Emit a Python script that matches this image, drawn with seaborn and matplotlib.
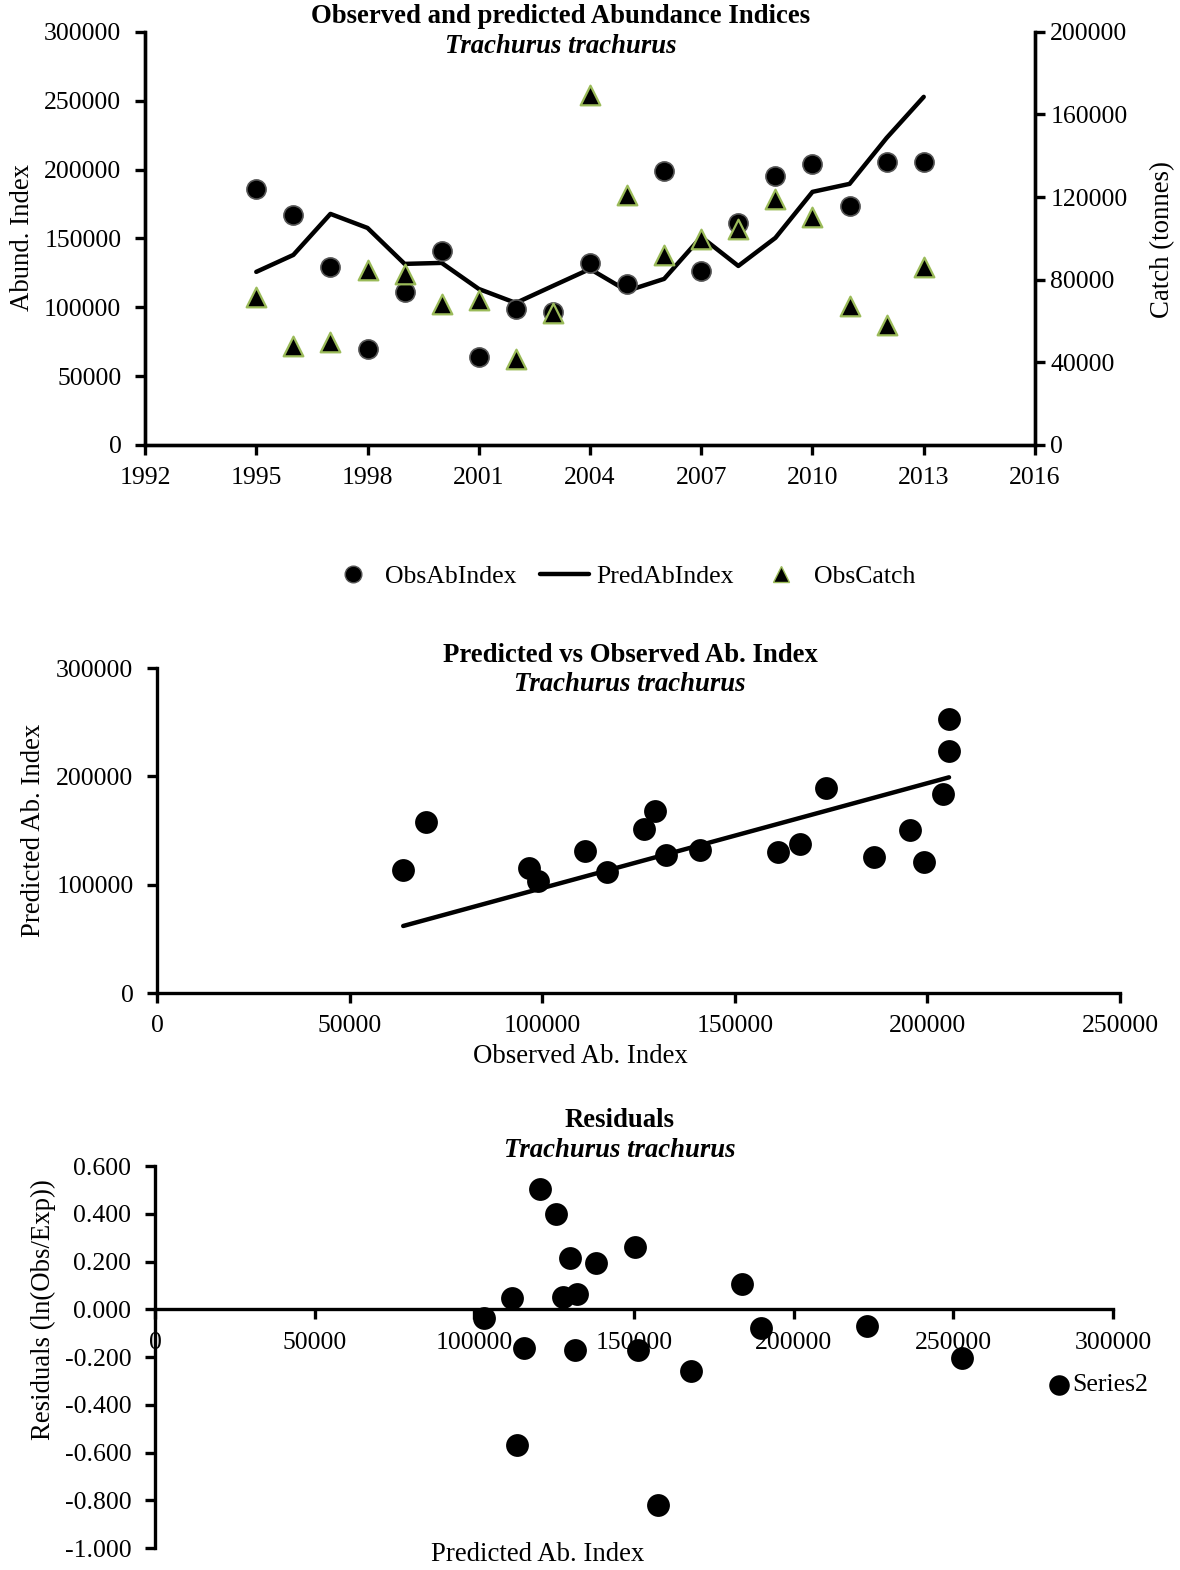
import matplotlib
matplotlib.use('Agg')
import matplotlib.pyplot as plt
from matplotlib.lines import Line2D
from matplotlib.ticker import FuncFormatter
import seaborn as sns
import pandas as pd
import numpy as np

# Values
years = [1995, 1996, 1997, 1998, 1999, 2000, 2001, 2002, 2003, 2004,
         2005, 2006, 2007, 2008, 2009, 2010, 2011, 2012, 2013]
obs_ab_index = [186000, 167000, 129300, 69700, 111100, 140900, 63900, 98800, 96600, 132200,
                116900, 199000, 126400, 161300, 195400, 204100, 173600, 205600, 205600]
pred_ab_index = [125700, 138000, 167800, 157600, 131500, 132200, 113300, 103100, 115500, 127800,
                 111900, 120600, 151100, 130000, 150400, 183800, 189600, 223000, 252800]
obs_catch = [71700, 47900, 49900, 84700, 82800, 68300, 70200, 41600, 63900, 169500,
             121100, 92000, 99800, 104600, 119100, 110400, 67300, 58100, 86200]
residuals = [0.398, 0.193, -0.260, -0.821, -0.172, 0.063, -0.570, -0.038, -0.163, 0.050,
             0.046, 0.503, -0.172, 0.214, 0.260, 0.105, -0.080, -0.071, -0.205]

df = pd.DataFrame({'Year': years, 'ObsAbIndex': obs_ab_index, 'PredAbIndex': pred_ab_index,
                   'ObsCatch': obs_catch, 'Residual': residuals})

sns.set_style('ticks')
plt.rcParams['font.family'] = ['Liberation Serif', 'DejaVu Serif']
plt.rcParams['font.size'] = 18.5
for k in ['text.color', 'axes.labelcolor', 'xtick.color', 'ytick.color', 'axes.edgecolor']:
    plt.rcParams[k] = 'black'
plt.rcParams['axes.linewidth'] = 2.4
plt.rcParams['xtick.major.width'] = 2.4
plt.rcParams['ytick.major.width'] = 2.4
plt.rcParams['xtick.major.size'] = 7
plt.rcParams['ytick.major.size'] = 7
plt.rcParams['xtick.major.pad'] = 9
plt.rcParams['ytick.major.pad'] = 10
plt.rcParams['xtick.labelsize'] = 18.5
plt.rcParams['ytick.labelsize'] = 18.5

green = '#9BBB59'
tfs = 19.3
fig = plt.figure(figsize=(11.8, 15.7), dpi=100)

##############################################
# Observed and predicted abundance indices

ax1 = fig.add_axes([0.1229, 0.7166, 0.7542, 0.2631])
sns.lineplot(data=df, x='Year', y='PredAbIndex', color='black', linewidth=3.2, ax=ax1, zorder=2)
sns.scatterplot(data=df, x='Year', y='ObsAbIndex', marker='o', color='black', s=190,
                edgecolor='#555555', linewidth=1.2, ax=ax1, zorder=3)
ax1.set_xlim(1992, 2016)
ax1.set_ylim(0, 300000)
ax1.set_xticks(range(1992, 2017, 3))
ax1.set_yticks(range(0, 300001, 50000))
ax1.set_xlabel('')
ax1.set_ylabel('')
ax1.spines['top'].set_visible(False)

ax1b = ax1.twinx()
sns.scatterplot(data=df, x='Year', y='ObsCatch', marker='^', color='black', s=200,
                edgecolor=green, linewidth=1.6, ax=ax1b, zorder=4)
ax1b.set_ylim(0, 200000)
ax1b.set_yticks(range(0, 200001, 40000))
ax1b.tick_params(axis='y', pad=4)
ax1b.set_ylabel('')
ax1b.spines['top'].set_visible(False)

fig.text(0.475, 0.9892, 'Observed and predicted Abundance Indices', ha='center', va='center',
         fontsize=tfs, fontweight='bold')
fig.text(0.475, 0.9701, 'Trachurus trachurus', ha='center', va='center',
         fontsize=tfs, fontweight='bold', style='italic')
fig.text(0.019, 0.8487, 'Abund. Index', rotation=90, ha='center', va='center', fontsize=tfs)
fig.text(0.9855, 0.8471, 'Catch (tonnes)', rotation=90, ha='center', va='center', fontsize=tfs)

handles = [Line2D([], [], marker='o', color='black', markeredgecolor='#555555', linestyle='none', markersize=12),
           Line2D([], [], color='black', linewidth=3.2),
           Line2D([], [], marker='^', color='black', markeredgecolor=green, linestyle='none', markersize=11)]
fig.legend(handles, ['ObsAbIndex', 'PredAbIndex', 'ObsCatch'], loc='center',
           bbox_to_anchor=(0.527, 0.6325), ncol=3, frameon=False, fontsize=18.5,
           handlelength=1.9, columnspacing=0.9, handletextpad=0.3)

##############################################
# Predicted vs observed (trendline through the origin)

ax2 = fig.add_axes([0.1331, 0.3675, 0.8161, 0.2070])
sns.scatterplot(data=df, x='ObsAbIndex', y='PredAbIndex', color='black', s=270,
                linewidth=0, ax=ax2, zorder=3)
slope = np.dot(df['ObsAbIndex'], df['PredAbIndex']) / np.dot(df['ObsAbIndex'], df['ObsAbIndex'])
trend_x = np.array([df['ObsAbIndex'].min(), df['ObsAbIndex'].max()])
sns.lineplot(x=trend_x, y=slope * trend_x, color='black', linewidth=3.2, ax=ax2, zorder=2)
ax2.set_xlim(0, 250000)
ax2.set_ylim(0, 300000)
ax2.set_xticks(range(0, 250001, 50000))
ax2.set_yticks(range(0, 300001, 100000))
ax2.set_xlabel('')
ax2.set_ylabel('')
sns.despine(ax=ax2)

fig.text(0.534, 0.5828, 'Predicted vs Observed Ab. Index', ha='center', va='center',
         fontsize=tfs, fontweight='bold')
fig.text(0.534, 0.5637, 'Trachurus trachurus', ha='center', va='center',
         fontsize=tfs, fontweight='bold', style='italic')
fig.text(0.028, 0.4713, 'Predicted Ab. Index', rotation=90, ha='center', va='center', fontsize=tfs)
fig.text(0.4915, 0.3268, 'Observed Ab. Index', ha='center', va='center', fontsize=tfs)

##############################################
# Residuals

ax3 = fig.add_axes([0.1314, 0.0140, 0.8119, 0.2433])
sns.scatterplot(data=df, x='PredAbIndex', y='Residual', marker='o', color='black', s=270,
                linewidth=0, ax=ax3, label='Series2')
ax3.set_xlim(0, 300000)
ax3.set_ylim(-1.0, 0.6)
ax3.set_xticks(range(0, 300001, 50000))
ax3.set_yticks([0.6, 0.4, 0.2, 0.0, -0.2, -0.4, -0.6, -0.8, -1.0])
ax3.yaxis.set_major_formatter(FuncFormatter(lambda v, p: f'{v:.3f}'))
ax3.spines['bottom'].set_position(('data', 0))
ax3.spines['top'].set_visible(False)
ax3.spines['right'].set_visible(False)
ax3.set_xlabel('')
ax3.set_ylabel('')
ax3.legend(loc='center left', bbox_to_anchor=(0.936, 0.427), frameon=False, fontsize=18.5,
           handlelength=0.6, handletextpad=0.2, borderaxespad=0, borderpad=0, markerscale=0.9)

fig.text(0.525, 0.2860, 'Residuals', ha='center', va='center', fontsize=tfs, fontweight='bold')
fig.text(0.525, 0.2669, 'Trachurus trachurus', ha='center', va='center',
         fontsize=tfs, fontweight='bold', style='italic')
fig.text(0.037, 0.1656, 'Residuals (ln(Obs/Exp))', rotation=90, ha='center', va='center', fontsize=tfs)
fig.text(0.456, 0.0096, 'Predicted Ab. Index', ha='center', va='center', fontsize=tfs)

fig.savefig('out.png', dpi=100)
